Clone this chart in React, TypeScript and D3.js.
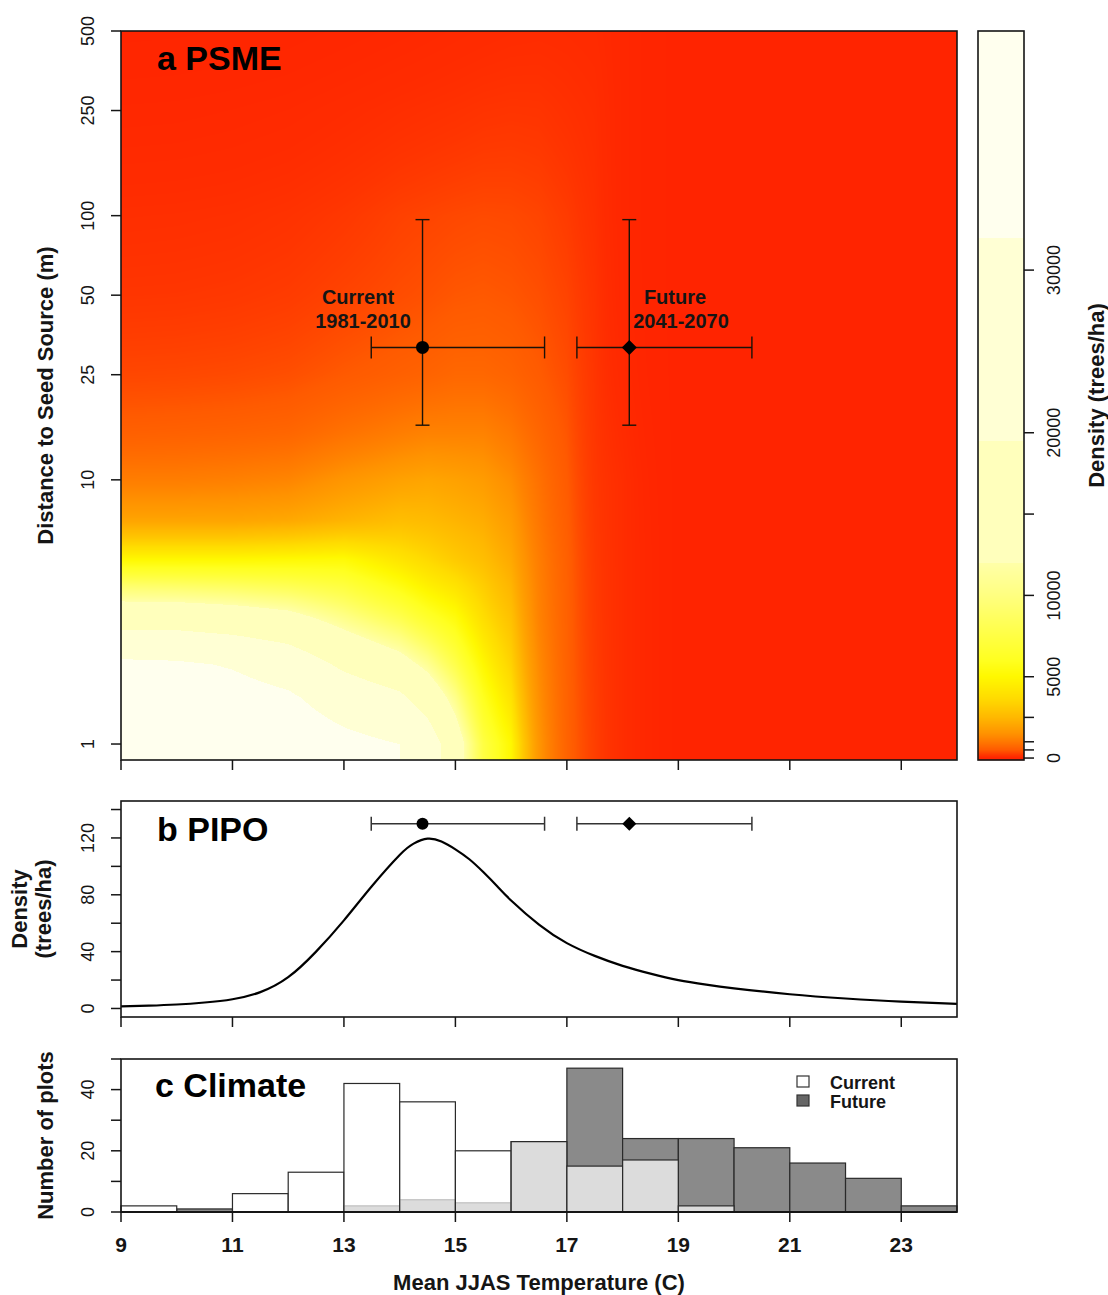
import React, { useMemo } from 'react';
import * as d3 from 'd3';

const W = 1108;
const H = 1295;
const FONT = "'Liberation Sans', Arial, Helvetica, sans-serif";
const INK = '#151515';

// ---------- Panel a: PSME density surface (trees/ha) ----------
const gridTemps = [9, 10, 11, 12, 13, 14, 14.5, 15, 15.5, 16, 16.5, 17, 17.5, 18, 18.5, 19, 20, 22, 24];
const gridDistances = [1, 1.5, 2, 3, 4, 5, 7, 10, 15, 25, 50, 100, 250, 500];
// one row per temperature, values along gridDistances
const psmeDensity = [
  [44000, 40000, 35000, 16000, 9000, 5000, 2000, 1100, 600, 330, 180, 110, 40, 15],
  [44500, 40500, 34000, 16000, 8800, 5000, 2000, 1100, 620, 340, 185, 115, 42, 16],
  [43000, 38000, 31000, 15000, 8500, 5000, 2000, 1150, 650, 360, 200, 125, 48, 18],
  [42000, 34000, 26000, 13500, 8000, 5100, 2100, 1250, 700, 400, 230, 150, 58, 22],
  [36000, 26000, 18000, 10500, 7200, 5200, 2400, 1600, 900, 500, 300, 200, 80, 30],
  [32000, 21000, 14000, 8000, 5500, 4100, 2700, 1900, 1100, 600, 380, 280, 110, 42],
  [25000, 16000, 11000, 6500, 4600, 3600, 2600, 2000, 1200, 650, 420, 310, 125, 50],
  [15000, 10500, 7800, 5400, 4000, 3100, 2400, 1900, 1200, 720, 470, 340, 140, 60],
  [7500, 6000, 5000, 3800, 3200, 2700, 2200, 1750, 1200, 720, 490, 360, 160, 70],
  [5000, 4000, 3400, 2800, 2400, 2100, 1750, 1400, 1000, 650, 460, 350, 170, 80],
  [1600, 1450, 1350, 1200, 1150, 1100, 980, 880, 700, 520, 400, 310, 165, 85],
  [650, 640, 630, 620, 610, 600, 560, 520, 460, 380, 300, 230, 130, 80],
  [260, 250, 240, 230, 225, 220, 210, 200, 190, 180, 160, 130, 100, 70],
  [100, 100, 100, 100, 100, 100, 100, 100, 80, 55, 40, 35, 35, 35],
  [30, 30, 30, 30, 30, 30, 28, 25, 20, 15, 12, 12, 12, 12],
  [5, 5, 5, 5, 5, 5, 5, 5, 5, 5, 5, 5, 5, 5],
  [3, 3, 3, 3, 3, 3, 3, 3, 3, 3, 3, 3, 3, 3],
  [2, 2, 2, 2, 2, 2, 2, 2, 2, 2, 2, 2, 2, 2],
  [1, 1, 1, 1, 1, 1, 1, 1, 1, 1, 1, 1, 1, 1],
];

const distanceTicks = [1, 10, 25, 50, 100, 250, 500];
const tempTicks = [9, 11, 13, 15, 17, 19, 21, 23];

// colour key
const colorbarTicks = [0, 500, 1000, 2500, 5000, 10000, 15000, 20000, 30000];
const colorbarLabels = [0, 5000, 10000, 20000, 30000];
const colorStopValues = [0, 150, 500, 1000, 1500, 2500, 3700, 5000, 6000, 8000, 10000, 12000];
const colorStopColors = ['#ff2400', '#ff3200', '#ff5a00', '#ff7800', '#ff9200', '#ffb800', '#ffdc00', '#fff800', '#ffff20', '#ffff50', '#ffff80', '#ffffa8'];
const paleBandBreaks = [12000, 19500, 32000];
const paleBandColors = ['#ffffbc', '#ffffd4', '#ffffee'];

// climate summaries (median and range)
const climateTempMid = [14.41, 18.12];
const climateTempLow = [13.49, 17.18];
const climateTempHigh = [16.6, 20.32];
const climateDistMid = [31.7, 31.7];
const climateDistLow = [16.1, 16.1];
const climateDistHigh = [96.6, 96.6];
const climateLabelLines = [['Current', '1981-2010'], ['Future', '2041-2070']];
const climateLabelX = [[358, 363], [675, 681]];

// ---------- Panel b: PIPO ----------
const pipoTemps = [9, 9.5, 10, 10.5, 11, 11.5, 12, 12.5, 13, 13.5, 14, 14.25, 14.5, 14.75, 15, 15.25, 15.5, 15.75, 16, 16.5, 17, 17.5, 18, 18.5, 19, 19.5, 20, 21, 22, 23, 24];
const pipoDensity = [1.5, 2, 2.8, 4.2, 6.5, 11.5, 22, 40, 62, 86, 108, 116, 119.5, 117.5, 112, 105, 96, 86, 76, 59, 46, 37, 30, 24.5, 20, 16.8, 14.2, 10, 7, 4.8, 3.3];
const pipoYTicks = [0, 20, 40, 60, 80, 100, 120, 140];
const pipoYLabels = [0, 40, 80, 120];
const pipoBarLevel = 130;

// ---------- Panel c: climate histogram ----------
const binStarts = [9, 10, 11, 12, 13, 14, 15, 16, 17, 18, 19, 20, 21, 22, 23];
const histCurrent = [2, 0, 6, 13, 42, 36, 20, 23, 15, 17, 2, 0, 0, 0, 0];
const histFuture = [0, 1, 0, 0, 2, 4, 3, 23, 47, 24, 24, 21, 16, 11, 2];
const countTicks = [0, 10, 20, 30, 40, 50];
const countLabels = [0, 20, 40];
const legendNames = ['Current', 'Future'];

// ---------- layout ----------
const X0 = 121, X1 = 957;
const A = { top: 31, bottom: 760 };
const B = { top: 801, bottom: 1017 };
const C = { top: 1059, bottom: 1212 };
const CB = { left: 978, right: 1024, top: 31, bottom: 760 };

const xS = d3.scaleLinear().domain([9, 24]).range([X0, X1]);
const yA = d3.scaleLog().domain([0.87, 500]).range([A.bottom, A.top]);
const yB = d3.scaleLinear().domain([-6, 146]).range([B.bottom, B.top]);
const yC = d3.scaleLinear().domain([0, 50]).range([C.bottom, C.top]);
const cS = d3.scaleLinear().domain([-120, 44700]).range([CB.bottom, CB.top]);

const lowScale = d3.scaleLinear<string>().domain(colorStopValues).range(colorStopColors).interpolate(d3.interpolateRgb).clamp(true);
function colorOf(v: number): string {
  if (v < paleBandBreaks[0]) return lowScale(v);
  if (v < paleBandBreaks[1]) return paleBandColors[0];
  if (v < paleBandBreaks[2]) return paleBandColors[1];
  return paleBandColors[2];
}

const logD = gridDistances.map((d) => Math.log10(d));
function sampleDensity(t: number, d: number): number {
  const ld = Math.log10(d);
  let i = d3.bisectRight(gridTemps, t) - 1;
  i = Math.max(0, Math.min(gridTemps.length - 2, i));
  let j = d3.bisectRight(logD, ld) - 1;
  j = Math.max(0, Math.min(logD.length - 2, j));
  const u = Math.max(0, Math.min(1, (t - gridTemps[i]) / (gridTemps[i + 1] - gridTemps[i])));
  const v = Math.max(0, Math.min(1, (ld - logD[j]) / (logD[j + 1] - logD[j])));
  const L = (a: number) => Math.log(a + 1);
  const g = psmeDensity;
  const val =
    (1 - u) * (1 - v) * L(g[i][j]) +
    u * (1 - v) * L(g[i + 1][j]) +
    (1 - u) * v * L(g[i][j + 1]) +
    u * v * L(g[i + 1][j + 1]);
  return Math.exp(val) - 1;
}

function buildHeatmap(): string {
  if (typeof document === 'undefined') return '';
  const pw = X1 - X0;
  const ph = A.bottom - A.top;
  const canvas = document.createElement('canvas');
  canvas.width = pw;
  canvas.height = ph;
  const ctx = canvas.getContext('2d');
  if (!ctx) return '';
  const step = 5;
  const lut: number[][] = [];
  for (let k = 0; k <= 46000 / step; k++) {
    const c = d3.rgb(colorOf(k * step));
    lut.push([c.r, c.g, c.b]);
  }
  const img = ctx.createImageData(pw, ph);
  for (let py = 0; py < ph; py++) {
    const d = yA.invert(A.top + py + 0.5);
    for (let px = 0; px < pw; px++) {
      const t = xS.invert(X0 + px + 0.5);
      const v = sampleDensity(t, d);
      const k = Math.max(0, Math.min(lut.length - 1, Math.round(v / step)));
      const c = lut[k];
      const o = (py * pw + px) * 4;
      img.data[o] = c[0];
      img.data[o + 1] = c[1];
      img.data[o + 2] = c[2];
      img.data[o + 3] = 255;
    }
  }
  ctx.putImageData(img, 0, 0);
  return canvas.toDataURL('image/png');
}

const tickLabelStyle = { fontFamily: FONT, fontSize: 18, fill: INK } as const;
const titleStyle = { fontFamily: FONT, fontSize: 22, fontWeight: 700, fill: INK } as const;

function Diamond({ cx, cy, r }: { cx: number; cy: number; r: number }) {
  return <path d={`M${cx},${cy - r}L${cx + r},${cy}L${cx},${cy + r}L${cx - r},${cy}Z`} fill="#000" />;
}

export default function App() {
  const heatHref = useMemo(() => buildHeatmap(), []);
  const cbRows = d3.range(CB.top, CB.bottom);

  const pipoLine = d3
    .line<number>()
    .x((_, i) => xS(pipoTemps[i]))
    .y((d) => yB(d))
    .curve(d3.curveNatural)(pipoDensity) as string;

  const yTickLabel = (x: number, y: number, text: string | number, key: string) => (
    <text key={key} transform={`translate(${x},${y}) rotate(-90)`} textAnchor="middle" style={tickLabelStyle}>
      {text}
    </text>
  );

  const xTicks = (y: number, prefix: string) =>
    tempTicks.map((t) => (
      <line key={prefix + t} x1={xS(t)} x2={xS(t)} y1={y} y2={y + 10} stroke={INK} strokeWidth={1.5} />
    ));

  const errBarsH = (y: number, prefix: string, capHalf: number, strokeW: number, color: string) =>
    climateTempMid.map((m, i) => (
      <g key={prefix + i}>
        <line x1={xS(climateTempLow[i])} x2={xS(climateTempHigh[i])} y1={y} y2={y} stroke={color} strokeWidth={strokeW} />
        <line x1={xS(climateTempLow[i])} x2={xS(climateTempLow[i])} y1={y - capHalf} y2={y + capHalf} stroke={color} strokeWidth={strokeW} />
        <line x1={xS(climateTempHigh[i])} x2={xS(climateTempHigh[i])} y1={y - capHalf} y2={y + capHalf} stroke={color} strokeWidth={strokeW} />
      </g>
    ));

  return (
    <svg
      width={W}
      height={H}
      viewBox={`0 0 ${W} ${H}`}
      style={{ position: 'absolute', left: 0, top: 0, background: '#fff' }}
      xmlns="http://www.w3.org/2000/svg"
    >
      <rect x={0} y={0} width={W} height={H} fill="#fff" />

      {/* ================= Panel a ================= */}
      {heatHref && (
        <image href={heatHref} x={X0} y={A.top} width={X1 - X0} height={A.bottom - A.top} preserveAspectRatio="none" />
      )}
      {climateTempMid.map((m, i) => {
        const cy = yA(climateDistMid[i]);
        const cx = xS(m);
        return (
          <g key={'eba' + i} stroke="#1a1208" strokeWidth={1.4}>
            <line x1={xS(climateTempLow[i])} x2={xS(climateTempHigh[i])} y1={cy} y2={cy} />
            <line x1={xS(climateTempLow[i])} x2={xS(climateTempLow[i])} y1={cy - 11} y2={cy + 11} />
            <line x1={xS(climateTempHigh[i])} x2={xS(climateTempHigh[i])} y1={cy - 11} y2={cy + 11} />
            <line x1={cx} x2={cx} y1={yA(climateDistLow[i])} y2={yA(climateDistHigh[i])} />
            <line x1={cx - 7} x2={cx + 7} y1={yA(climateDistLow[i])} y2={yA(climateDistLow[i])} />
            <line x1={cx - 7} x2={cx + 7} y1={yA(climateDistHigh[i])} y2={yA(climateDistHigh[i])} />
          </g>
        );
      })}
      <circle cx={xS(climateTempMid[0])} cy={yA(climateDistMid[0])} r={6.5} fill="#000" />
      <Diamond cx={xS(climateTempMid[1])} cy={yA(climateDistMid[1])} r={7.5} />
      {climateLabelLines.map((lines, i) =>
        lines.map((s, k) => (
          <text
            key={'cl' + i + k}
            x={climateLabelX[i][k]}
            y={304 + k * 24}
            textAnchor="middle"
            style={{ fontFamily: FONT, fontSize: 20, fontWeight: 700, fill: INK }}
          >
            {s}
          </text>
        ))
      )}
      <text x={157} y={70} style={{ fontFamily: FONT, fontSize: 34, fontWeight: 700, fill: '#000' }}>
        a PSME
      </text>
      <rect x={X0} y={A.top} width={X1 - X0} height={A.bottom - A.top} fill="none" stroke={INK} strokeWidth={1.6} />
      {distanceTicks.map((d) => (
        <line key={'ya' + d} x1={X0 - 10} x2={X0} y1={yA(d)} y2={yA(d)} stroke={INK} strokeWidth={1.5} />
      ))}
      {distanceTicks.map((d) => yTickLabel(94, yA(d), d, 'yal' + d))}
      {xTicks(A.bottom, 'xa')}
      <text transform={`translate(53,${(A.top + A.bottom) / 2}) rotate(-90)`} textAnchor="middle" style={titleStyle}>
        Distance to Seed Source (m)
      </text>

      {/* colour bar */}
      {cbRows.map((py) => (
        <rect key={'cb' + py} x={CB.left} y={py} width={CB.right - CB.left} height={1.2} fill={colorOf(cS.invert(py + 0.5))} />
      ))}
      <rect x={CB.left} y={CB.top} width={CB.right - CB.left} height={CB.bottom - CB.top} fill="none" stroke={INK} strokeWidth={1.6} />
      {colorbarTicks.map((v) => (
        <line key={'cbt' + v} x1={CB.right} x2={CB.right + 10} y1={cS(v)} y2={cS(v)} stroke={INK} strokeWidth={1.5} />
      ))}
      {colorbarLabels.map((v) => yTickLabel(1060, cS(v), v, 'cbl' + v))}
      <text transform={`translate(1104,${(CB.top + CB.bottom) / 2}) rotate(-90)`} textAnchor="middle" style={titleStyle}>
        Density (trees/ha)
      </text>

      {/* ================= Panel b ================= */}
      <path d={pipoLine} fill="none" stroke="#000" strokeWidth={2.2} />
      {errBarsH(yB(pipoBarLevel), 'ebb', 7, 1.5, '#333')}
      <circle cx={xS(climateTempMid[0])} cy={yB(pipoBarLevel)} r={6} fill="#000" />
      <Diamond cx={xS(climateTempMid[1])} cy={yB(pipoBarLevel)} r={7} />
      <text x={157} y={841} style={{ fontFamily: FONT, fontSize: 34, fontWeight: 700, fill: '#000' }}>
        b PIPO
      </text>
      <rect x={X0} y={B.top} width={X1 - X0} height={B.bottom - B.top} fill="none" stroke={INK} strokeWidth={1.6} />
      {pipoYTicks.map((v) => (
        <line key={'yb' + v} x1={X0 - 10} x2={X0} y1={yB(v)} y2={yB(v)} stroke={INK} strokeWidth={1.5} />
      ))}
      {pipoYLabels.map((v) => yTickLabel(94, yB(v), v, 'ybl' + v))}
      {xTicks(B.bottom, 'xb')}
      <text transform={`translate(27,${(B.top + B.bottom) / 2}) rotate(-90)`} textAnchor="middle" style={titleStyle}>
        Density
      </text>
      <text transform={`translate(51,${(B.top + B.bottom) / 2}) rotate(-90)`} textAnchor="middle" style={titleStyle}>
        (trees/ha)
      </text>

      {/* ================= Panel c ================= */}
      {binStarts.map((s, i) => (
        <rect
          key={'hf' + i}
          x={xS(s)}
          y={yC(histFuture[i])}
          width={xS(s + 1) - xS(s)}
          height={yC(0) - yC(histFuture[i])}
          fill="#8a8a8a"
          stroke="#2a2a2a"
          strokeWidth={1.2}
        />
      ))}
      {binStarts.map((s, i) => (
        <rect
          key={'hc' + i}
          x={xS(s)}
          y={yC(histCurrent[i])}
          width={xS(s + 1) - xS(s)}
          height={yC(0) - yC(histCurrent[i])}
          fill="rgba(255,255,255,0.7)"
          stroke="#2a2a2a"
          strokeWidth={1.2}
        />
      ))}
      <text x={155} y={1097} style={{ fontFamily: FONT, fontSize: 34, fontWeight: 700, fill: '#000' }}>
        c Climate
      </text>
      {legendNames.map((n, i) => (
        <g key={'lg' + i}>
          <rect x={797} y={1076 + i * 19} width={12} height={11} fill={i === 0 ? '#fff' : '#666'} stroke="#333" strokeWidth={1.2} />
          <text x={830} y={1089 + i * 19} style={{ fontFamily: FONT, fontSize: 18, fontWeight: 700, fill: INK }}>
            {n}
          </text>
        </g>
      ))}
      <rect x={X0} y={C.top} width={X1 - X0} height={C.bottom - C.top} fill="none" stroke={INK} strokeWidth={1.6} />
      <line x1={X0} x2={X1} y1={C.bottom} y2={C.bottom} stroke={INK} strokeWidth={2.2} />
      {countTicks.map((v) => (
        <line key={'yc' + v} x1={X0 - 10} x2={X0} y1={yC(v)} y2={yC(v)} stroke={INK} strokeWidth={1.5} />
      ))}
      {countLabels.map((v) => yTickLabel(94, yC(v), v, 'ycl' + v))}
      {xTicks(C.bottom, 'xc')}
      {tempTicks.map((t) => (
        <text key={'xcl' + t} x={xS(t)} y={1252} textAnchor="middle" style={{ fontFamily: FONT, fontSize: 21, fontWeight: 700, fill: INK }}>
          {t}
        </text>
      ))}
      <text transform={`translate(53,${(C.top + C.bottom) / 2}) rotate(-90)`} textAnchor="middle" style={titleStyle}>
        Number of plots
      </text>
      <text x={(X0 + X1) / 2} y={1290} textAnchor="middle" style={titleStyle}>
        Mean JJAS Temperature (C)
      </text>
    </svg>
  );
}
